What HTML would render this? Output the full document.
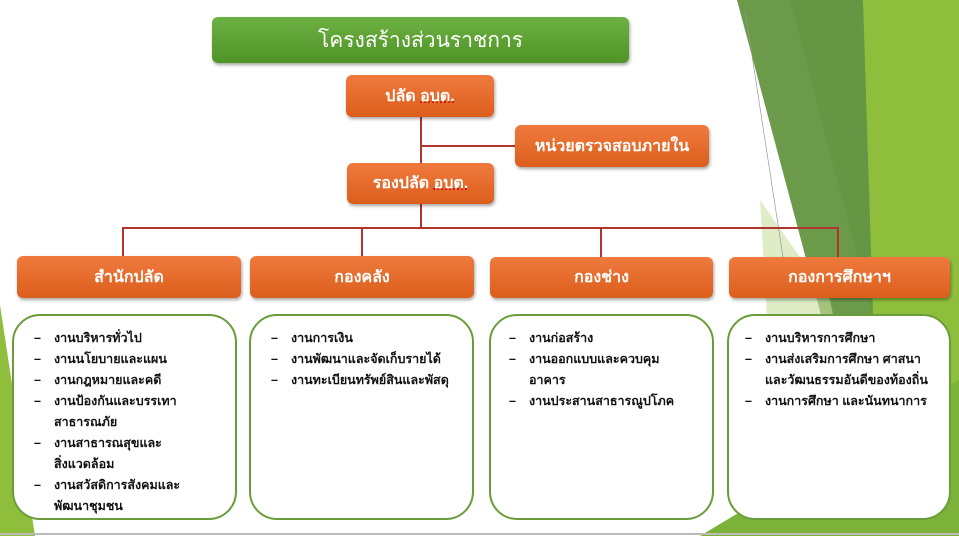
<!DOCTYPE html>
<html><head><meta charset="utf-8"><style>
html,body{margin:0;padding:0}
body{width:959px;height:536px;position:relative;overflow:hidden;background:#fff;font-family:"Liberation Sans","Noto Sans CJK SC","WenQuanYi Zen Hei",sans-serif}
.bg{position:absolute;left:0;top:0}
.o{position:absolute;background:linear-gradient(#ef7a3e,#dc5e1c);border-radius:6px;color:#fff;font-weight:bold;font-size:16px;display:flex;align-items:center;justify-content:center;box-shadow:1px 2px 3px rgba(0,0,0,.35)}
.g{position:absolute;border:2.5px solid #6a9d3a;border-radius:28px;background:#fff;box-sizing:border-box}
.g ul{list-style:none;margin:0;padding:0;position:absolute;left:20px;top:12px;font-size:12.5px;font-weight:bold;color:#111;line-height:21px}
.g li{position:relative;padding-left:20px}
.g li:before{content:"–";position:absolute;left:0}
.ln{position:absolute;background:#b0352c}
u{text-decoration:underline dotted #c00}
</style></head><body>
<svg class="bg" width="959" height="536">
<polygon points="737,0 863,0 905,536 880,536" fill="#6b9a4a"/>
<polygon points="790,0 863,0 900,420" fill="#5f9441" opacity=".6"/>
<polygon points="863,0 959,0 959,536 880,536" fill="#8fbe3c"/>
<polygon points="760,200 830,300 880,536 780,536" fill="#c9e0a0" opacity=".6"/>
<polygon points="700,536 959,536 959,380" fill="#7db23a"/>
<polygon points="0,305 35,536 0,536" fill="#8fbe3c"/>
<line x1="745" y1="10" x2="785" y2="270" stroke="#999" stroke-width="0.7"/>
<line x1="0" y1="534" x2="959" y2="534" stroke="#bbb" stroke-width="2"/>
</svg>
<div class="o" style="left:212px;top:17px;width:417px;height:46px;background:linear-gradient(#6db043,#4f9426);font-weight:normal;font-size:21px">โครงสร้างส่วนราชการ</div>
<div class="ln" style="left:420px;top:117px;width:2px;height:111px"></div>
<div class="ln" style="left:421px;top:145px;width:95px;height:2px"></div>
<div class="ln" style="left:122px;top:227px;width:717px;height:2px"></div>
<div class="ln" style="left:122px;top:227px;width:2px;height:30px"></div>
<div class="ln" style="left:361px;top:227px;width:2px;height:30px"></div>
<div class="ln" style="left:600px;top:227px;width:2px;height:30px"></div>
<div class="ln" style="left:837px;top:227px;width:2px;height:30px"></div>
<div class="o" style="left:346px;top:75px;width:148px;height:42px">ปลัด&nbsp;<u>อบต.</u></div>
<div class="o" style="left:515px;top:125px;width:194px;height:42px">หน่วยตรวจสอบภายใน</div>
<div class="o" style="left:347px;top:163px;width:147px;height:41px">รองปลัด&nbsp;<u>อบต.</u></div>
<div class="o" style="left:17px;top:256px;width:224px;height:42px">สำนักปลัด</div>
<div class="o" style="left:250px;top:256px;width:224px;height:42px">กองคลัง</div>
<div class="o" style="left:490px;top:257px;width:223px;height:41px">กองช่าง</div>
<div class="o" style="left:729px;top:257px;width:221px;height:41px">กองการศึกษาฯ</div>
<div class="g" style="left:12px;top:314px;width:225px;height:206px"><ul>
<li>งานบริหารทั่วไป</li><li>งานนโยบายและแผน</li><li>งานกฎหมายและคดี</li><li>งานป้องกันและบรรเทา<br>สาธารณภัย</li><li>งานสาธารณสุขและ<br>สิ่งแวดล้อม</li><li>งานสวัสดิการสังคมและ<br>พัฒนาชุมชน</li></ul></div>
<div class="g" style="left:249px;top:314px;width:225px;height:206px"><ul>
<li>งานการเงิน</li><li>งานพัฒนาและจัดเก็บรายได้</li><li>งานทะเบียนทรัพย์สินและพัสดุ</li></ul></div>
<div class="g" style="left:489px;top:314px;width:225px;height:206px"><ul style="left:18px">
<li>งานก่อสร้าง</li><li>งานออกแบบและควบคุม<br>อาคาร</li><li>งานประสานสาธารณูปโภค</li></ul></div>
<div class="g" style="left:727px;top:314px;width:224px;height:206px"><ul style="left:16px">
<li>งานบริหารการศึกษา</li><li>งานส่งเสริมการศึกษา ศาสนา<br>และวัฒนธรรมอันดีของท้องถิ่น</li><li>งานการศึกษา และนันทนาการ</li></ul></div>
</body></html>
